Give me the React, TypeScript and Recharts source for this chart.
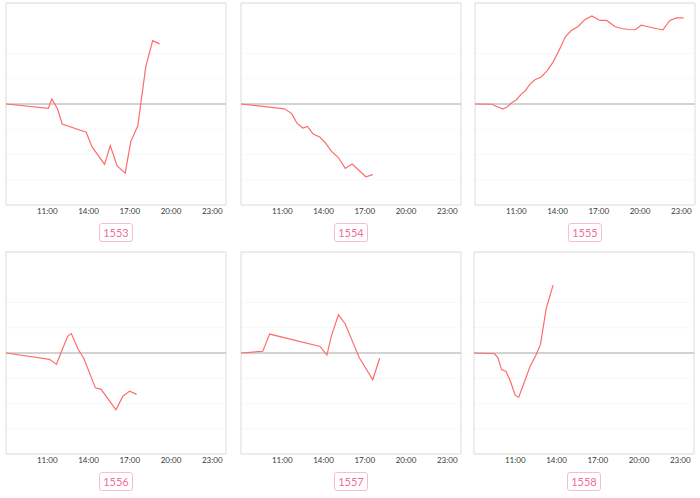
import React from "react";
import {
  CartesianGrid,
  Line,
  LineChart,
  ReferenceLine,
  XAxis,
  YAxis,
} from "recharts";

// tick labels on the time axis
const hourTicks = [11, 14, 17, 20, 23];
const valueTicks = [-4, -3, -2, -1, 0, 1, 2, 3, 4];

// panel labels
const labels = ["1553", "1554", "1555", "1556", "1557", "1558"];

// series: times + values per panel
const times1553 = ["8:00", "11:05", "11:20", "11:45", "12:05", "13:50", "14:15", "15:10", "15:35", "16:05", "16:40", "17:05", "17:35", "18:10", "18:40", "19:10"];
const values1553 = [0, -0.17, 0.2, -0.2, -0.79, -1.12, -1.69, -2.39, -1.65, -2.45, -2.74, -1.47, -0.87, 1.48, 2.51, 2.38];

const times1554 = ["8:00", "11:10", "11:40", "11:50", "12:05", "12:30", "12:50", "13:15", "13:45", "14:10", "14:35", "15:05", "15:35", "16:05", "17:05", "17:35"];
const values1554 = [0, -0.19, -0.37, -0.53, -0.77, -0.95, -0.89, -1.19, -1.32, -1.56, -1.88, -2.12, -2.55, -2.38, -2.88, -2.8];

const times1555 = ["8:00", "9:15", "9:35", "9:45", "10:00", "10:20", "10:40", "11:00", "11:20", "11:40", "12:00", "12:20", "12:50", "13:15", "13:40", "14:05", "14:35", "15:00", "15:30", "16:00", "16:30", "17:05", "17:35", "18:10", "18:40", "19:10", "19:40", "20:05", "20:45", "21:15", "21:40", "22:10", "22:40", "23:10"];
const values1555 = [0, -0.01, -0.11, -0.13, -0.2, -0.12, 0.05, 0.16, 0.37, 0.53, 0.79, 0.95, 1.08, 1.32, 1.65, 2.09, 2.67, 2.91, 3.07, 3.35, 3.49, 3.31, 3.31, 3.07, 2.99, 2.95, 2.94, 3.12, 3.04, 2.98, 2.94, 3.31, 3.41, 3.41];

const times1556 = ["8:00", "11:10", "11:40", "12:05", "12:30", "12:45", "13:15", "13:40", "14:30", "14:55", "15:30", "16:00", "16:30", "17:00", "17:30"];
const values1556 = [0, -0.25, -0.45, 0.13, 0.67, 0.77, 0.15, -0.22, -1.38, -1.44, -1.88, -2.25, -1.71, -1.51, -1.64];

const times1557 = ["8:00", "9:35", "9:50", "10:05", "13:45", "14:15", "14:35", "15:05", "15:35", "16:05", "16:35", "17:35", "18:05"];
const values1557 = [0, 0.07, 0.41, 0.75, 0.26, -0.08, 0.69, 1.51, 1.15, 0.49, -0.17, -1.06, -0.21];

const times1558 = ["8:00", "9:30", "9:45", "10:00", "10:20", "10:40", "11:00", "11:15", "11:40", "12:05", "12:30", "12:50", "13:15", "13:45"];
const values1558 = [0, -0.03, -0.2, -0.66, -0.73, -1.15, -1.68, -1.75, -1.15, -0.52, -0.09, 0.33, 1.76, 2.69];

const seriesTimes = [times1553, times1554, times1555, times1556, times1557, times1558];
const seriesValues = [values1553, values1554, values1555, values1556, values1557, values1558];

const toHour = (t: string) => {
  const [h, m] = t.split(":").map(Number);
  return h + m / 60;
};

const PLOT_W = 220;
const PLOT_H = 202;
const M = 4;
const AXIS_H = 20;

// top-left corner of each plot area
const positions = [
  { x: 6, y: 3 },
  { x: 241, y: 3 },
  { x: 475, y: 3 },
  { x: 6, y: 252 },
  { x: 241, y: 252 },
  { x: 474, y: 252 },
];

const FONT = "Lato, 'DejaVu Sans', sans-serif";

function Panel({ index }: { index: number }) {
  const times = seriesTimes[index];
  const values = seriesValues[index];
  const data = times.map((t, i) => ({ t: toHour(t), v: values[i] }));
  const pos = positions[index];

  return (
    <>
      <div style={{ position: "absolute", left: pos.x - M, top: pos.y - M }}>
        <LineChart
          width={PLOT_W + 2 * M}
          height={PLOT_H + 2 * M + AXIS_H}
          data={data}
          margin={{ top: M, right: M, bottom: M, left: M }}
        >
          <CartesianGrid
            vertical={false}
            stroke="#f2f2f2"
            strokeDasharray="2 2"
          />
          <XAxis
            type="number"
            dataKey="t"
            domain={[8, 24]}
            ticks={hourTicks}
            height={AXIS_H}
            tickFormatter={(h: number) => `${h}:00`}
            tickLine={false}
            axisLine={false}
            tickSize={0}
            tickMargin={3}
            tick={{ fill: "#3a3a3a", fontSize: 8, fontFamily: FONT }}
            allowDataOverflow
          />
          <YAxis type="number" domain={[-4, 4]} ticks={valueTicks} hide />
          <ReferenceLine x={8} stroke="#dcdcdc" />
          <ReferenceLine x={24} stroke="#dcdcdc" />
          <ReferenceLine y={4} stroke="#dcdcdc" />
          <ReferenceLine y={-4} stroke="#dcdcdc" />
          <ReferenceLine y={0} stroke="#c4c4c4" strokeWidth={1.5} />
          <Line
            type="linear"
            dataKey="v"
            stroke="#ff6b6b"
            strokeWidth={1.2}
            dot={false}
            isAnimationActive={false}
          />
        </LineChart>
      </div>
      <div
        style={{
          position: "absolute",
          left: pos.x,
          top: pos.y + PLOT_H + 18,
          width: PLOT_W,
          textAlign: "center",
        }}
      >
        <span
          style={{
            display: "inline-block",
            border: "1px solid #f9bdd0",
            borderRadius: 3,
            color: "#f26d95",
            fontFamily: FONT,
            fontSize: 11,
            lineHeight: "15px",
            padding: "1px 3px",
          }}
        >
          {labels[index]}
        </span>
      </div>
    </>
  );
}

export default function App() {
  return (
    <div
      style={{
        position: "absolute",
        left: 0,
        top: 0,
        width: 700,
        height: 498,
        background: "#fff",
        overflow: "hidden",
      }}
    >
      {labels.map((_, i) => (
        <Panel key={labels[i]} index={i} />
      ))}
    </div>
  );
}
